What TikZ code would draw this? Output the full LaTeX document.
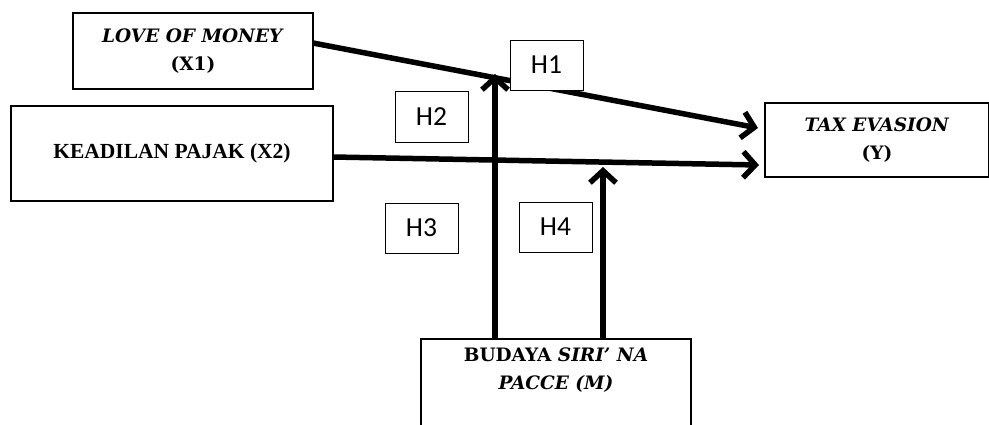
\documentclass[tikz,border=0pt]{standalone}
\usepackage{fontspec}
\setmainfont{Liberation Serif}
\newfontfamily\bkserif{DejaVu Serif}
\newfontfamily\hfont{Carlito}
\usetikzlibrary{arrows.meta}
\tikzset{
  box/.style={draw=black, line width=1.5pt, fill=white, inner sep=0pt, align=center},
  hbox/.style={draw=black, line width=0.9pt, fill=white, inner sep=0pt, minimum width=73pt, minimum height=50pt, font=\hfont\fontsize{27.5}{30}\selectfont},
  thick arrow/.style={line width=5.5pt, -{Straight Barb[length=12pt,width=26pt,line width=5.5pt]}},
  bkfont/.style={font=\bkserif\bfseries\fontsize{18.5}{27.5}\selectfont}
}
\begin{document}
\begin{tikzpicture}[x=1pt,y=-1pt]
\useasboundingbox (0,0) rectangle (989,424);
% boxes
\node[box, bkfont, minimum width=240pt, minimum height=76pt] (x1) at (193,51) {\textit{LOVE OF MONEY}\\(X1)};
\node[box, font=\bfseries\fontsize{21.5}{24}\selectfont, minimum width=322pt, minimum height=95pt] (x2) at (172,153.5) {KEADILAN PAJAK (X2)};
\node[box, bkfont, minimum width=224pt, minimum height=74pt] (y) at (877,140) {\textit{TAX EVASION}\\(Y)};
\node[box, minimum width=270pt, minimum height=110pt] (m) at (556,394) {};
\node[bkfont, align=center, anchor=north, inner sep=0pt] (mt) at (556,348) {BUDAYA \textit{SIRI’ NA}\\\textit{PACCE (M)}};
% coordinates
\coordinate (a1s) at (313,43);
\coordinate (a1e) at (758,128);
\coordinate (a2s) at (333,157);
\coordinate (a2e) at (759,165);
\coordinate (v1) at (495,74);
\coordinate (v2) at (603,167);
% arrows
\draw[thick arrow] (a1s) -- (a1e);
\draw[thick arrow] (a2s) -- (a2e);
\draw[thick arrow] (v1 |- m.north) -- (v1);
\draw[thick arrow] (v2 |- m.north) -- (v2);
% hypothesis labels
\node[hbox] (h1) at (546.5,65) {H1};
\node[hbox, minimum height=51pt] (h2) at (431.5,116.5) {H2};
\node[hbox] (h3) at (421.5,228) {H3};
\node[hbox] (h4) at (555.5,227) {H4};
\end{tikzpicture}
\end{document}
